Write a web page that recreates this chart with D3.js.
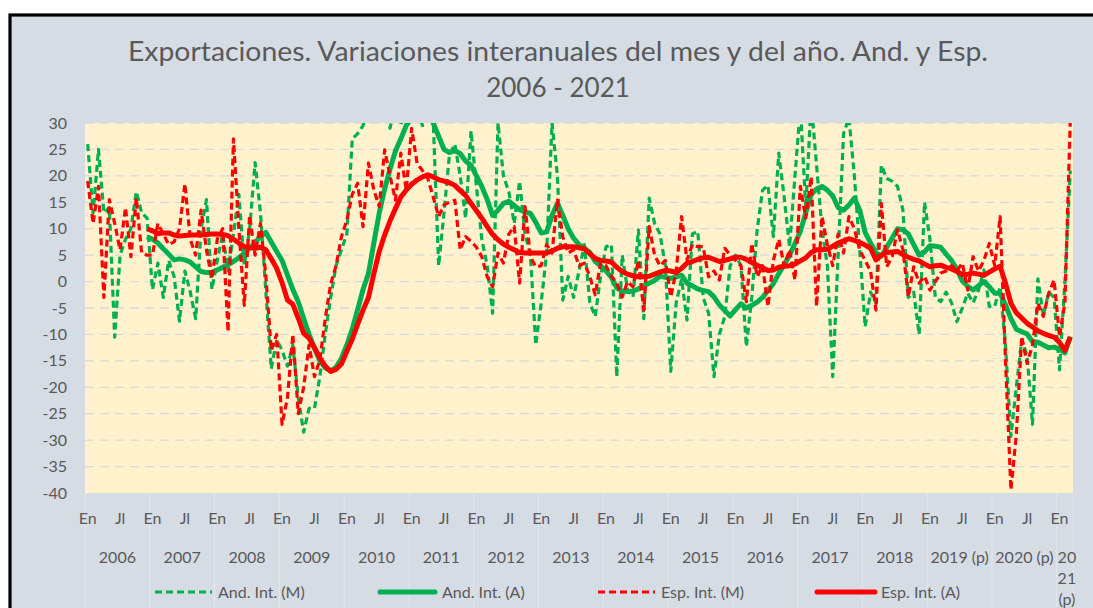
<!DOCTYPE html>
<html><head><meta charset="utf-8">
<script src="https://cdn.jsdelivr.net/npm/d3@7"></script>
<style>
html,body{margin:0;padding:0;background:#ffffff;}
svg{display:block;}
text{font-family:Lato,"Open Sans","Noto Sans",sans-serif;fill:#595959;}
</style></head><body>
<svg id="chart" width="1093" height="608"></svg>
<script>
// ---------- DATA ----------
const years = [2006,2007,2008,2009,2010,2011,2012,2013,2014,2015,2016,2017,2018,2019,2020,2021];
const yearLabels = ["2006","2007","2008","2009","2010","2011","2012","2013","2014","2015","2016","2017","2018","2019 (p)","2020 (p)","2021 (p)"];
const monthNames = ["En","Fb","Mz","Ab","My","Jn","Jl","Ag","Sp","Oc","Nv","Dc"];
const yTicks = [30,25,20,15,10,5,0,-5,-10,-15,-20,-25,-30,-35,-40];
const seriesNames = ["And. Int. (M)","And. Int. (A)","Esp. Int. (M)","Esp. Int. (A)"];

// Andalucía, variación interanual del mes
const andM = [
 26,13,25,13,14,-10.5,5,8,10,17,13,12,
 -1.5,3.5,-3,4,1,-7.5,2,-2,-7,10,15.5,-1.5,
 4,9,2,9,16.5,3,10,22.5,13,-2,-16.5,-11,
 -13,-16,-12,-22,-28.5,-24,-24,-18,-10,-3,3,6,
 9,27,28,29.5,33,35,33,36,29,34,29.5,35,
 36,33,29.5,34,30.5,3,13,24,26,20,12,28.5,
 18,8,3,-6,30,20,17,11,19,9,5,-12,
 -4,5.4,30,20,-3.5,1,-3,2,7,-4,-6.6,1,
 6.6,7,-18,5,-1.6,-2.9,9.8,-7,15.8,11,9,3,
 -17,-4,0.5,-7.3,9,9.5,-3,-6,-18,-10,-6.6,3,
 5,3,-12.3,-3,9.8,17.3,18.2,8.5,24.3,16,6.6,20,
 33,14,34,22,10,3,-18,5,28,31,20,6,
 -8.5,-2,-4,22,19.5,19,18,13.5,-3,-2,-10,15,
 8,-3,-3.8,-2,-4,-7.6,-5,-2.2,-4,-1.6,2.2,-4.7,
 -4.7,-1,-12,-29.3,-20,-11,-14,-27,0.5,-6.5,-2,-3,
 -16.7,0,21
];
// Andalucía, variación interanual acumulada (año)
const andA = [
 null,null,null,null,null,null,null,null,null,null,null,8.5,
 8.0,7.3,6.2,5.2,4.1,4.3,4.1,3.7,2.8,1.9,1.7,1.7,
 2.2,2.7,3.2,3.8,4.5,5.3,6.4,7.4,8.5,9.3,7.5,5.7,
 4,1.2,-1.5,-3.8,-7,-10,-12.6,-15,-16.3,-16.9,-16.2,-14.5,
 -12,-9,-5.3,-1.5,1.5,7.3,13,17.5,21.3,24.7,27,29.5,
 31,32,32.5,32.5,30,27.5,25,24.4,24.8,24.2,22.8,22,
 20,18,15.5,12.5,13.5,14.8,15.2,14.4,13.6,13.2,12.9,11.2,
 9.2,9.4,12.5,14.8,12.5,10,8.2,7,6.3,5.5,3.8,3,
 2.0,0.8,-1.2,-1.8,-1.9,-1.8,-1.4,-0.8,-0.3,0.2,1.0,0.8,
 0.6,0.9,1.2,-0.3,-0.8,-1.4,-1.7,-1.9,-2.9,-4.4,-5.5,-6.5,
 -5.3,-4.2,-5,-4.5,-3.9,-3,-1.7,-0.4,1.5,3.2,5,7.2,
 9.5,13,16.5,17.5,18,17.3,16.2,14,13.5,14.5,15.8,13.5,
 9.3,7.3,5.4,4.8,6.5,8.2,10,9.8,9,7,5,5.6,
 6.8,6.7,6.5,5.2,4,2.3,0.1,-0.9,-1.6,-0.8,0,-1,
 -2.2,-2.2,-4.4,-7,-9,-9.5,-9.9,-11.4,-11.5,-12,-12.5,-12.4,
 -12.8,-13.5,-10.4
];
// España, variación interanual del mes
const espM = [
 19,11,18,-3,15.5,11,6,14,4.7,15.8,5.4,5,
 5,11,9,7,7.5,10,18.5,8,5,13.5,6,0.5,
 8,10,-9.5,27,10,-4.5,12.5,5,11,1,-13,-10,
 -27,-22,-10,-25,-20,-12,-18,-14.8,-7,-0.5,3,8.5,
 11.6,16.5,18.6,10.4,22.4,17.3,14.2,24.9,20,15.4,24.3,17.3,
 29,22.4,21,19.5,16,12.3,14.5,15,15.4,6,8.5,7.6,
 6.5,4.7,0.9,-1,5.4,3.5,9,10.4,-0.3,14.2,4.7,2.8,
 3,7,5.4,15.4,8.5,5.4,6,3,3.5,1,-2.5,3.5,
 3,1,-0.3,-2.9,0,-1,4,-5.4,10.4,5,3,4,
 -2.9,2,12.3,4.1,7,6.6,6.6,0.9,2,0.3,6.3,5,
 4,3,-3.8,7.2,0.9,3,-4.7,4,8,3,6,0.3,
 18,12,19.8,-4.7,12.3,7,3,9,5.4,12.3,10,6,
 4,2,-5.4,14.8,2.8,4.7,9.8,6,-2.9,2.8,-0.3,1,
 -1.6,0,1.6,2,3,2,3.5,-1.6,4.7,2,4,7.2,
 3,12.3,-15,-39.4,-29,-10.4,-15.5,-12,-4.1,-6.6,-2.2,0.3,
 -10.4,-4,30.5
];
// España, variación interanual acumulada (año)
const espA = [
 null,null,null,null,null,null,null,null,null,null,null,10,
 9.6,9.1,9.2,9.2,8.8,8.6,8.7,8.8,8.8,8.8,8.9,9.0,
 9.0,8.9,8.7,8.0,7.3,6.6,6.4,6.3,6.5,6,4.3,2.5,
 -0.2,-3.5,-4.3,-6.9,-9.8,-10.7,-12.5,-14.5,-16,-17,-16.6,-15.6,
 -13.2,-10.9,-8.1,-5.4,-3,1.5,5.7,8.8,11.5,13.8,16,17.3,
 18.4,19.2,19.8,20.2,19.8,19.3,19,18.7,18.2,17.2,16.3,14.8,
 13.4,12,10.4,8.9,7.9,7.1,6.5,6,5.5,5.4,5.4,5.4,
 5.4,5.4,5.8,6.3,6.6,6.6,6.6,6.4,6.2,5.3,4.4,4.0,
 3.9,3.7,2.7,1.9,1.4,1.1,0.9,0.9,1.0,1.4,1.8,2.1,
 2.0,1.7,2.5,3.5,3.8,4.2,4.5,4.6,4.2,3.8,4.0,4.3,
 4.6,4.6,4.2,3.6,3.1,2.6,2.1,2.2,2.7,2.9,3,3.3,
 3.9,4.5,5.5,6.0,6.0,6.1,6.7,7.3,7.7,8.1,7.8,7.4,
 6.9,6.3,4.1,5.0,5.5,5.6,5.7,5.1,4.6,4.2,3.9,3.3,
 2.8,3.0,3.1,2.7,2.4,1.9,1.3,1.4,1.6,1.4,1.2,1.8,
 2.4,2.9,-0.3,-4.1,-5.9,-6.9,-7.9,-8.6,-9.3,-9.8,-10.2,-10.5,
 -11.5,-13.0,-10.5
];

// ---------- CATEGORIES ----------
const categories = [];
years.forEach((yr, yi) => {
  for (let m = 0; m < 12; m++) {
    if (categories.length < andM.length) categories.push({year: yr, yi: yi, month: m});
  }
});
const N = categories.length;

// ---------- LAYOUT ----------
const W = 1093, H = 608;
const plot = {left: 85, right: 1073, top: 123, bottom: 493};
const svg = d3.select("#chart");

svg.append("rect").attr("x",0).attr("y",0).attr("width",W).attr("height",H).attr("fill","#ffffff");
svg.append("rect").attr("x",10).attr("y",15).attr("width",1200).attr("height",700)
  .attr("fill","#d6dce4").attr("stroke","#000").attr("stroke-width",3.2);

const x = d3.scaleBand().domain(d3.range(N)).range([plot.left, plot.right]).padding(0);
const xc = i => x(i) + x.bandwidth()/2;
const y = d3.scaleLinear().domain([-40,30]).range([plot.bottom, plot.top]);

svg.append("rect").attr("x",plot.left).attr("y",plot.top)
  .attr("width",plot.right-plot.left).attr("height",plot.bottom-plot.top).attr("fill","#fff2cc");

// gridlines
svg.append("g").selectAll("line").data(yTicks.filter(t => t > -40)).join("line")
  .attr("x1",plot.left).attr("x2",plot.right)
  .attr("y1",d=>y(d)).attr("y2",d=>y(d))
  .attr("stroke","#d9d9d9").attr("stroke-width",1.3).attr("stroke-dasharray","9,6");

// year separators (multi-level category axis)
const yearStarts = [];
categories.forEach((c,i)=>{ if (c.month===0) yearStarts.push(i); });
const sepX = yearStarts.map(i => x(i)).concat([plot.right]);
svg.append("g").selectAll("line").data(sepX).join("line")
  .attr("x1",d=>d).attr("x2",d=>d).attr("y1",plot.bottom).attr("y2",H)
  .attr("stroke","#e4e6ea").attr("stroke-width",1);

// y axis
const yAxis = d3.axisLeft(y).tickValues(yTicks).tickSize(0).tickPadding(18).tickFormat(d => String(d));
const gy = svg.append("g").attr("transform",`translate(${plot.left},0)`).call(yAxis);
gy.select(".domain").remove();
gy.selectAll("text").style("font-size","16px").attr("fill","#595959");

// x axis, month level (every 6 months)
const monthTicks = d3.range(N).filter(i => categories[i].month % 6 === 0);
const xAxis = d3.axisBottom(x).tickValues(monthTicks).tickSize(0).tickPadding(20)
  .tickFormat(i => monthNames[categories[i].month]);
const gx = svg.append("g").attr("transform",`translate(0,${plot.bottom})`).call(xAxis);
gx.select(".domain").remove();
gx.selectAll("text").style("font-size","16px").attr("fill","#595959");

// x axis, year level
const yearGroups = years.map((yr, yi) => {
  const idx = d3.range(N).filter(i => categories[i].yi === yi);
  const x0 = x(idx[0]), x1 = x(idx[idx.length-1]) + x.bandwidth();
  return {label: yearLabels[yi], cx: (x0+x1)/2, width: x1-x0};
});
const yg = svg.append("g");
yearGroups.forEach(g => {
  const t = yg.append("text").attr("x",g.cx).attr("y",563).attr("text-anchor","middle")
    .style("font-size","16px");
  if (g.width < 40) {
    // narrow group: Excel wraps the label
    const num = g.label.split(" ")[0], rest = g.label.split(" ").slice(1).join(" ");
    const lines = [num.slice(0,2), num.slice(2), rest];
    lines.forEach((l,k)=> t.append("tspan").attr("x",g.cx+2).attr("dy", k===0?0:21).text(l));
  } else {
    t.text(g.label);
  }
});

// ---------- LINES ----------
svg.append("clipPath").attr("id","plotClip").append("rect")
  .attr("x",plot.left).attr("y",plot.top).attr("width",plot.right-plot.left).attr("height",plot.bottom-plot.top);
const lineGen = d3.line().defined(d => d != null).x((d,i)=>xc(i)).y(d=>y(d));
const series = [
  {data: andM, color:"#00b050", width:3.2, dash:"7,4"},
  {data: andA, color:"#00b050", width:5, dash:null},
  {data: espM, color:"#ff0000", width:3.2, dash:"7,4"},
  {data: espA, color:"#ff0000", width:5, dash:null}
];
const gl = svg.append("g").attr("clip-path","url(#plotClip)");
series.forEach(s => {
  gl.append("path").datum(s.data).attr("d", lineGen)
    .attr("fill","none").attr("stroke",s.color).attr("stroke-width",s.width)
    .attr("stroke-linejoin","round").attr("stroke-dasharray", s.dash);
});

// ---------- TITLE ----------
svg.append("text").attr("x",558).attr("y",61).attr("text-anchor","middle")
  .style("font-size","26px").attr("textLength",860).attr("lengthAdjust","spacingAndGlyphs")
  .text("Exportaciones. Variaciones interanuales del mes y del año. And. y Esp.");
svg.append("text").attr("x",558).attr("y",97).attr("text-anchor","middle")
  .style("font-size","26px").text("2006 - 2021");

// ---------- LEGEND ----------
const legendPos = [{x0:155,x1:212,tx:218},{x0:380,x1:435,tx:442},{x0:598,x1:655,tx:661},{x0:817,x1:875,tx:881}];
const lg = svg.append("g");
series.forEach((s,k) => {
  const p = legendPos[k];
  lg.append("line").attr("x1",p.x0).attr("x2",p.x1).attr("y1",592).attr("y2",592)
    .attr("stroke",s.color).attr("stroke-width",s.width).attr("stroke-dasharray",s.dash)
    .attr("stroke-linecap", s.dash ? "butt" : "round");
  lg.append("text").attr("x",p.tx).attr("y",598).style("font-size","16px").text(seriesNames[k]);
});
</script>
</body></html>
